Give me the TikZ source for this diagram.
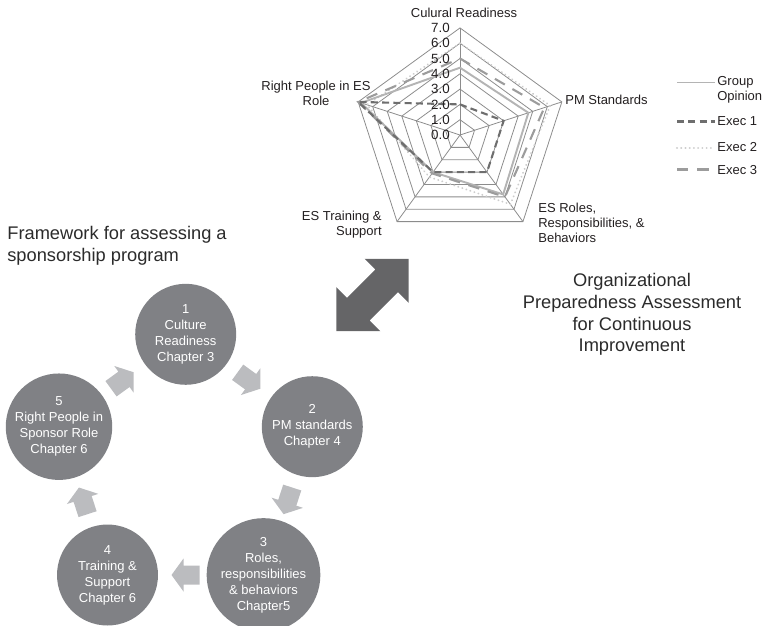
\documentclass[tikz,border=0pt]{standalone}
\usepackage{fontspec}
\setmainfont{Liberation Sans}
\usetikzlibrary{calc}

\definecolor{gridgray}{HTML}{8C8C8C}
\definecolor{groupgray}{HTML}{B4B4B4}
\definecolor{execonegray}{HTML}{6E6E6E}
\definecolor{exectwogray}{HTML}{CDCDCD}
\definecolor{execthreegray}{HTML}{9C9C9C}
\definecolor{labelblack}{HTML}{231F20}
\definecolor{stagegray}{HTML}{808185}
\definecolor{arrowgray}{HTML}{BBBCBF}
\definecolor{bigarrowgray}{HTML}{656567}
\definecolor{headgray}{HTML}{2B2B2B}

\tikzset{
  gridline/.style={draw=gridgray, line width=0.45pt},
  groupline/.style={draw=groupgray, line width=1.1pt},
  execone/.style={draw=execonegray, line width=1.2pt, dash pattern=on 4pt off 2.4pt},
  exectwo/.style={draw=exectwogray, line width=1.2pt, line cap=round, dash pattern=on 0.01pt off 2.4pt},
  execthree/.style={draw=execthreegray, line width=1.2pt, dash pattern=on 6.5pt off 5pt},
  radarlabel/.style={font=\fontsize{7.4}{8.4}\selectfont, inner sep=0pt, text=labelblack},
  headline/.style={font=\fontsize{10.4}{12.5}\selectfont, inner sep=0pt, text=headgray},
  stagecircle/.style={circle, fill=stagegray, text=white, minimum size=2.02cm, inner sep=0pt,
    align=center, font=\fontsize{7.4}{9.1}\selectfont},
  pics/cyclearrow/.style={code={
    \fill[arrowgray] (-14,-9.5) -- (2,-9.5) -- (2,-16.5) -- (14,0) -- (2,16.5) -- (2,9.5) -- (-14,9.5) -- cycle;}}
}

\begin{document}
\begin{tikzpicture}[x=0.02cm, y=-0.02cm]
\useasboundingbox (0,0) rectangle (763,625);

% Drawing radar chart
\begin{scope}[shift={(460,135)}, x=0.306cm, y=0.306cm]
  % Drawing grid
  \foreach \r in {1,...,7}
    \draw[gridline] (90:\r) -- (18:\r) -- (-54:\r) -- (-126:\r) -- (162:\r) -- cycle;
  \foreach \a in {90,18,-54,-126,162}
    \draw[gridline] (0,0) -- (\a:7);
  % Drawing series Exec 2
  \draw[exectwo] (90:6.0) -- (18:6.2) -- (-54:5.6) -- (-126:3.4) -- (162:6.4) -- cycle;
  % Drawing series Group Opinion
  \draw[groupline] (90:4.4) -- (18:4.7) -- (-54:4.8) -- (-126:3.0) -- (162:6.8) -- cycle;
  % Drawing series Exec 3
  \draw[execthree] (90:5.0) -- (18:5.8) -- (-54:5.0) -- (-126:3.1) -- (162:7.0) -- cycle;
  % Drawing series Exec 1
  \draw[execone] (90:2.0) -- (18:3.0) -- (-54:3.0) -- (-126:3.0) -- (162:7.0) -- cycle;
  % Marking axis values
  \foreach \k in {0,...,7}
    \node[radarlabel, anchor=east, font=\fontsize{7.6}{8.4}\selectfont] (val\k) at (-0.65,\k) {\k.0};
\end{scope}

% Marking axis names
\node[radarlabel] (culture) at (464,13) {Culural Readiness};
\node[radarlabel, anchor=west] (pmstd) at (565,100) {PM Standards};
\node[radarlabel, anchor=north west, align=left] (esroles) at (538,203) {ES Roles,\\Responsibilities, \&\\Behaviors};
\node[radarlabel, anchor=east, align=right] (estrain) at (382,225) {ES Training \&\\Support};
\node[radarlabel, align=center] (rightpeople) at (316,93) {Right People in ES\\Role};

% Drawing legend
\draw[groupline] (677,82.5) -- (715,82.5);
\node[radarlabel, anchor=north west, align=left] (leggroup) at (717,76) {Group\\Opinion};
\draw[execone] (677,121.5) -- (715,121.5);
\node[radarlabel, anchor=west] (legone) at (717,121) {Exec 1};
\draw[exectwo] (677,148) -- (715,148);
\node[radarlabel, anchor=west] (legtwo) at (717,147.5) {Exec 2};
\draw[execthree] (677,169.5) -- (715,169.5);
\node[radarlabel, anchor=west] (legthree) at (717,170) {Exec 3};

% Marking titles
\node[headline, anchor=north west, align=left] (frame) at (7,226) {Framework for assessing a\\sponsorship program};
\node[headline, anchor=north, align=center] (orgprep) at (632,272.5) {Organizational\\Preparedness Assessment\\for Continuous\\Improvement};

% Drawing double arrow
\fill[bigarrowgray, shift={(372.5,295)}, rotate=45]
  (51,0) -- (20,31) -- (20,16) -- (-20,16) -- (-20,31) -- (-51,0)
  -- (-20,-31) -- (-20,-16) -- (20,-16) -- (20,-31) -- cycle;

% Drawing cycle stages
\node[stagecircle] (c1) at (185.7,334.3) {1\\Culture\\Readiness\\Chapter 3};
\node[stagecircle] (c2) at (312.3,426.7) {2\\PM standards\\Chapter 4};
\node[stagecircle] (c3) at (263.5,575) {3\\Roles,\\responsibilities\\\& behaviors\\Chapter5};
\node[stagecircle] (c4) at (107.5,575) {4\\Training \&\\Support\\Chapter 6};
\node[stagecircle] (c5) at (59,426.7) {5\\Right People in\\Sponsor Role\\Chapter 6};

% Drawing cycle arrows
\foreach \from/\to/\ang in {c1/c2/-36, c2/c3/-108, c3/c4/180, c4/c5/108, c5/c1/36}
  \pic[rotate=\ang] at ($(\from)!0.5!(\to)$) {cyclearrow};
\end{tikzpicture}
\end{document}
